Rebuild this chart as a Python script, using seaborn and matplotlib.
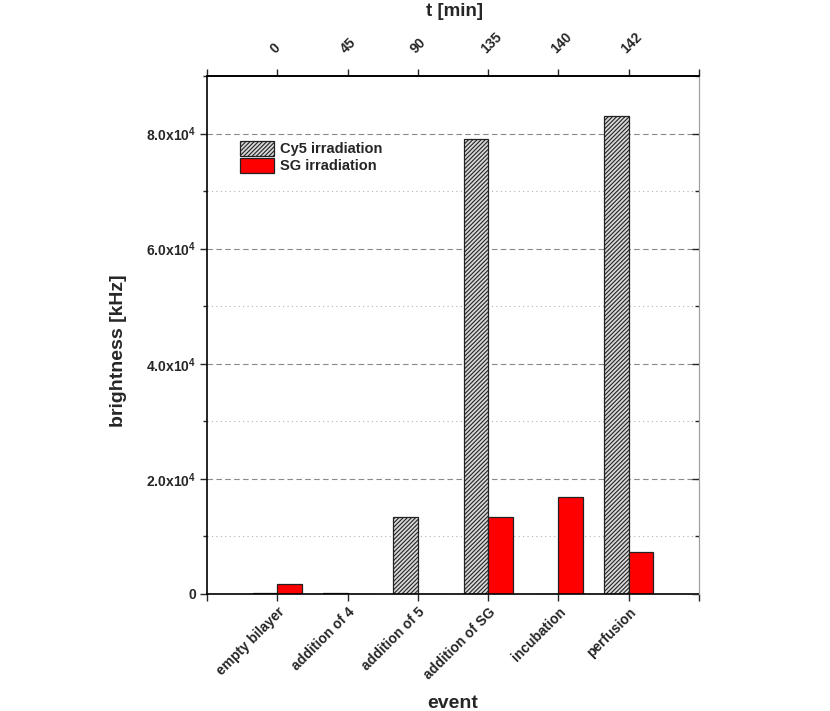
import matplotlib
matplotlib.use("Agg")
import matplotlib.pyplot as plt
import seaborn as sns
import pandas as pd
from matplotlib.ticker import FixedLocator

events = ["empty bilayer", "addition of 4", "addition of 5", "addition of SG", "incubation", "perfusion"]
times = ["0", "45", "90", "135", "140", "142"]
cy5 = [250, 250, 13400, 79000, 0, 83000]
sg = [1700, 0, 0, 13300, 16800, 7250]
series = ["Cy5 irradiation", "SG irradiation"]
y_major = [0, 20000, 40000, 60000, 80000]
y_minor = [10000, 30000, 50000, 70000, 90000]

df = pd.DataFrame({
    "event": events * 2,
    "value": cy5 + sg,
    "series": [series[0]] * len(events) + [series[1]] * len(events),
})

sns.set_theme(style="white")
plt.rcParams["font.family"] = ["Liberation Sans", "DejaVu Sans"]
plt.rcParams["font.weight"] = "bold"
plt.rcParams["mathtext.fontset"] = "custom"
plt.rcParams["mathtext.rm"] = "Liberation Sans:bold"
plt.rcParams["mathtext.default"] = "rm"
plt.rcParams["hatch.linewidth"] = 0.8
plt.rcParams["hatch.color"] = "#333333"

fig = plt.figure(figsize=(8.3, 7.11), dpi=100)
ax = fig.add_axes([0.2494, 0.1646, 0.5928, 0.7285])

sns.barplot(data=df, x="event", y="value", hue="series", order=events, hue_order=series,
            palette=["#d9d9d9", "#ff0000"], width=0.7, gap=0, edgecolor="#222222",
            linewidth=0.9, saturation=1, ax=ax, legend=False)

for p in ax.containers[0].patches:
    p.set_hatch("////////")

ax.set_xlim(-1, 6)
ax.set_ylim(0, 90000)

def yfmt(v):
    if v == 0:
        return "0"
    return r"%.1fx10$^{4}$" % (v / 1e4)

ax.set_yticks(y_major)
ax.set_yticklabels([yfmt(v) for v in y_major], fontsize=10, fontweight="bold")
ax.yaxis.set_minor_locator(FixedLocator(y_minor))
ax.tick_params(axis="y", which="major", direction="out", length=5, width=1, left=True, right=False, pad=3)
ax.tick_params(axis="y", which="minor", direction="out", length=3, width=1, left=True, right=False)

ax.grid(axis="y", which="major", linestyle=(0, (5, 3)), color="#8a8a8a", linewidth=0.8)
ax.grid(axis="y", which="minor", linestyle=(0, (1, 3)), color="#b0b0b0", linewidth=0.8)
ax.set_axisbelow(True)

ax.set_xticks(list(range(-1, 7)))
ax.set_xticklabels([""] + events + [""], rotation=45, ha="right", rotation_mode="anchor",
                   fontsize=10, fontweight="bold")
ax.tick_params(axis="x", direction="out", length=5, width=1, bottom=True, pad=3)

for side in ["left", "bottom", "top"]:
    ax.spines[side].set_color("black")
    ax.spines[side].set_linewidth(1.2)
ax.spines["right"].set_color("#a0a0a0")
ax.spines["right"].set_linewidth(0.8)

ax.set_xlabel("event", fontsize=14, fontweight="bold")
ax.xaxis.set_label_coords(0.5, -0.196)
ax.set_ylabel("brightness [kHz]", fontsize=14, fontweight="bold")
ax.yaxis.set_label_coords(-0.163, 0.469)

# right-side inward ticks
ax3 = ax.twinx()
ax3.set_ylim(ax.get_ylim())
ax3.set_yticks(y_major)
ax3.set_yticklabels([])
ax3.yaxis.set_minor_locator(FixedLocator(y_minor))
ax3.tick_params(axis="y", which="major", direction="in", length=5, width=1, right=True, labelright=False)
ax3.tick_params(axis="y", which="minor", direction="in", length=3, width=1, right=True, labelright=False)
for side in ["left", "bottom", "top"]:
    ax3.spines[side].set_visible(False)
ax3.spines["right"].set_color("#a0a0a0")
ax3.spines["right"].set_linewidth(0.8)
ax3.grid(False)

# top axis
ax2 = ax.twiny()
ax2.set_xlim(ax.get_xlim())
ax2.set_xticks(list(range(-1, 7)))
ax2.set_xticklabels([""] + times + [""], rotation=45, ha="left", rotation_mode="anchor",
                    fontsize=10, fontweight="bold")
ax2.tick_params(axis="x", direction="out", length=5, width=1, top=True, pad=9)
ax2.set_xlabel("t [min]", fontsize=13.5, fontweight="bold")
ax2.xaxis.set_label_coords(0.504, 1.115)
for side in ["left", "bottom", "right"]:
    ax2.spines[side].set_visible(False)
ax2.spines["top"].set_linewidth(1.2)
ax2.spines["top"].set_color("black")
ax2.grid(False)

leg = ax.legend(handles=list(ax.containers), labels=series, loc="upper left",
                bbox_to_anchor=(0.068, 0.875), frameon=False, fontsize=10.5,
                handlelength=2.3, handleheight=1.2, labelspacing=0.1,
                handletextpad=0.4, borderaxespad=0, borderpad=0)
for t in leg.get_texts():
    t.set_fontweight("bold")

fig.savefig("out.png", dpi=100)
